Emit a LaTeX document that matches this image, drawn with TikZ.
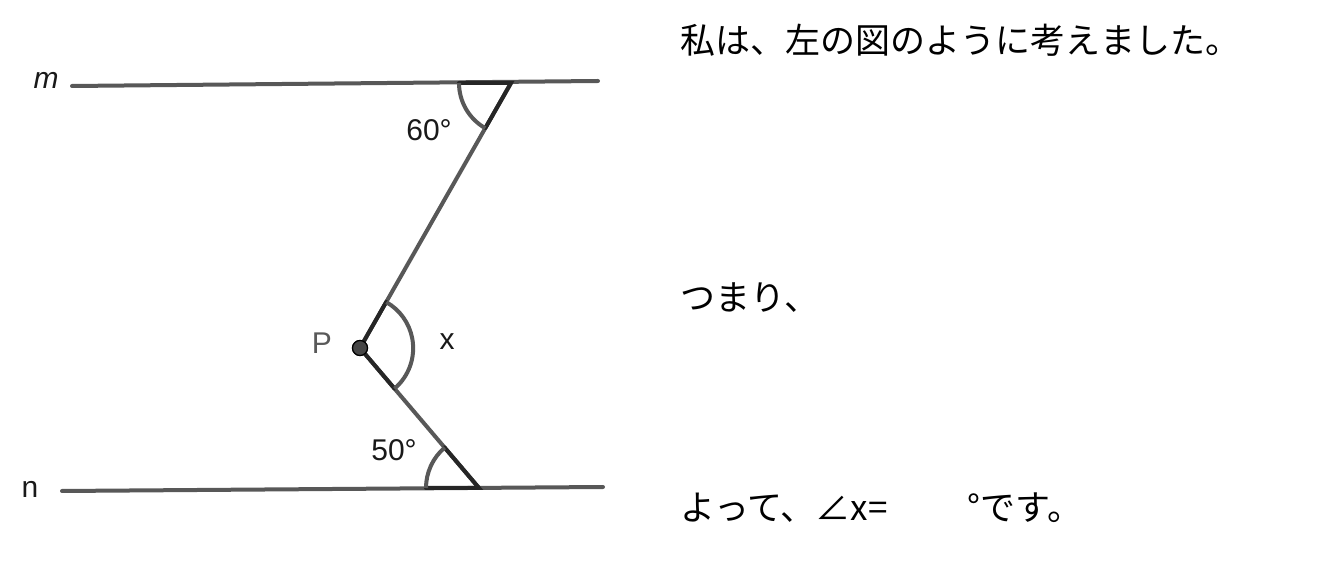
\documentclass[tikz,border=0pt]{standalone}
\usepackage{fontspec}
\setmainfont{Liberation Sans}
\newfontfamily\jpfont{Noto Sans CJK JP}
\usetikzlibrary{calc}

\definecolor{linegray}{RGB}{88,88,88}
\definecolor{dotgray}{RGB}{70,70,70}

\tikzset{
  parline/.style={line width=2pt, linegray, line cap=round},
  armline/.style={line width=2pt, black!85, line cap=round},
  anglearc/.style={line width=2pt, linegray},
  lab/.style={font=\fontsize{15pt}{17pt}\selectfont, text=black!90, inner sep=0pt},
  jptext/.style={font=\jpfont\fontsize{17.5pt}{20pt}\selectfont, anchor=west, inner sep=0pt}
}

\begin{document}
\begin{tikzpicture}[x=0.5pt, y=0.5pt]
\useasboundingbox (0,0) rectangle (1318,584);

% parallel lines
\coordinate (m1) at (72,498);
\coordinate (m2) at (598,503);
\coordinate (n1) at (62,93);
\coordinate (n2) at (603,97);
\coordinate (A) at (511,501);
\coordinate (B) at (479,96);
\node[circle, fill=dotgray, draw=black, line width=0.6pt, inner sep=0pt, minimum size=7.5pt] (P) at (360,236) {};

\draw[parline] (m1) -- (m2);
\draw[parline] (n1) -- (n2);
\draw[parline] (A) -- (P.center) -- (B);

% angle at the top
\draw[armline] ($(A)+(-52,0)$) -- (A) -- ($(A)!0.17!(P.center)$);
\draw[anglearc] ($(A)+(-52,0)$) arc[start angle=180, end angle=240.3, radius=52];

% angle at the bottom
\draw[armline] ($(B)+(-53,0)$) -- (B) -- ($(B)!0.29!(P.center)$);
\draw[anglearc] ($(B)+(-53,0)$) arc[start angle=180, end angle=130.4, radius=53];

% angle x at P
\draw[armline] ($(P.center)!0.174!(A)$) -- (P.center) -- ($(P.center)!0.29!(B)$);
\draw[anglearc] ($(P.center)!0.29!(B)$) arc[start angle=-49.6, end angle=60.3, radius=53];
\node[circle, fill=dotgray, draw=black, line width=0.6pt, inner sep=0pt, minimum size=7.5pt] at (P) {};

% labels
\node[lab, font=\fontsize{15pt}{17pt}\selectfont\itshape] (mlab) at (46,504) {m};
\node[lab] (nlab) at (30,95) {n};
\node[lab] (a60) at (429,454) {60°};
\node[lab] (a50) at (394,134) {50°};
\node[lab] (xlab) at (447,242) {x};
\node[lab, text=black!65] (plab) at (322,241) {P};

% text on the right
\node[jptext] (t1) at (680,544) {私は、左の図のように考えました。};
\node[jptext] (t2) at (680,286) {つまり、};
\node[jptext] (t3) at (680,76) {よって、∠x=\hspace{40pt}°です。};
\end{tikzpicture}
\end{document}
